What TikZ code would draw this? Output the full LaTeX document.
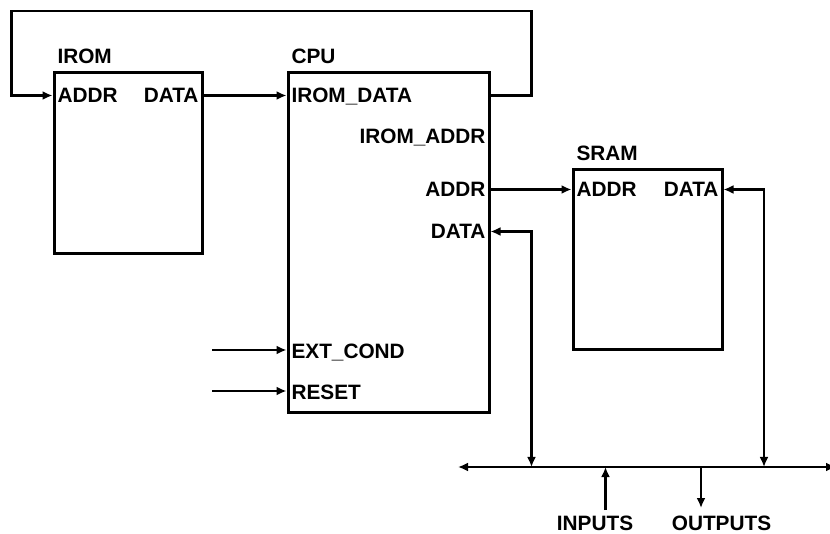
\documentclass[tikz,border=0pt]{standalone}
\usepackage{fontspec}
\setmainfont{Liberation Sans}
\usetikzlibrary{arrows.meta,positioning}

\begin{document}
\begin{tikzpicture}[
  x=1pt, y=1pt, >={Latex[length=10pt,width=9pt]},
  font=\fontsize{20.8}{24}\selectfont\bfseries,
  block/.style={rectangle, draw, line width=3pt, inner sep=0pt},
  title/.style={inner sep=0pt, outer sep=0pt, text height=14.9pt, text depth=0pt},
  port/.style={inner sep=0pt, outer sep=0pt, text height=14.9pt, text depth=0pt},
  wire/.style={line width=2.7pt},
]
  \useasboundingbox (0,0) rectangle (830,533);
  % blocks
  \node[block, minimum width=148pt, minimum height=181pt] (irom) at (128,369.5) {};
  \node[block, minimum width=201pt, minimum height=340pt] (cpu) at (388.5,290) {};
  \node[block, minimum width=149pt, minimum height=180pt] (sram) at (647.5,273) {};
  \node[title, above right=8pt and 5pt of irom.north west] (irom-t) {IROM};
  \node[title, above right=8pt and 5pt of cpu.north west] (cpu-t) {CPU};
  \node[title, above right=8pt and 5pt of sram.north west] (sram-t) {SRAM};
  % ports
  \node[port, right=5pt of irom.north west, yshift=-24pt] (irom-addr) {ADDR};
  \node[port, left=5pt of irom.north east, yshift=-24pt] (irom-data) {DATA};
  \node[port, right=5pt of cpu.north west, yshift=-24pt] (cpu-idata) {IROM\_DATA};
  \node[port, left=5pt of cpu.north east, yshift=-65pt] (cpu-iaddr) {IROM\_ADDR};
  \node[port, left=5pt of cpu.north east, yshift=-118pt] (cpu-addr) {ADDR};
  \node[port, left=5pt of cpu.north east, yshift=-160pt] (cpu-data) {DATA};
  \node[port, right=5pt of cpu.south west, yshift=63pt] (cpu-ext) {EXT\_COND};
  \node[port, right=5pt of cpu.south west, yshift=22pt] (cpu-rst) {RESET};
  \node[port, right=5pt of sram.north west, yshift=-21pt] (sram-addr) {ADDR};
  \node[port, left=5pt of sram.north east, yshift=-21pt] (sram-data) {DATA};
  % bus and outside ends
  \coordinate (loopL) at (11.5,522);
  \coordinate (loopR) at (531.5,522);
  \coordinate (extIn) at (212,183);
  \coordinate (rstIn) at (212,142);
  \coordinate (busL) at (458,66);
  \coordinate (busR) at (836,66);
  \coordinate (tapA) at (531.5,66);
  \coordinate (tapB) at (764,66);
  \coordinate (inTap) at (605.5,66);
  \coordinate (outTap) at (701,66);
  \coordinate (inStart) at (605.5,23);
  \coordinate (outEnd) at (701,25);
  \node[port, anchor=south] (inputs) at (595,3) {INPUTS};
  \node[port, anchor=south] (outputs) at (721.5,3) {OUTPUTS};
  % connections
  \draw[wire,->] (cpu.east |- cpu-idata) -| (loopR) -- (loopL) |- (irom.west |- irom-addr);
  \draw[wire,->] (irom.east |- irom-data) -- (cpu.west |- irom-data);
  \draw[wire,->] (cpu.east |- cpu-addr) -- (sram.west |- cpu-addr);
  \draw[wire,<->] (cpu.east |- cpu-data) -| (tapA);
  \draw[wire,<->] (sram.east |- sram-data) -| (tapB);
  \draw[wire,->] (extIn) -- (cpu.west |- extIn);
  \draw[wire,->] (rstIn) -- (cpu.west |- rstIn);
  \draw[wire,<->] (busL) -- (busR);
  \draw[wire,->] (inStart) -- (inTap);
  \draw[wire,->] (outTap) -- (outEnd);
\end{tikzpicture}
\end{document}
